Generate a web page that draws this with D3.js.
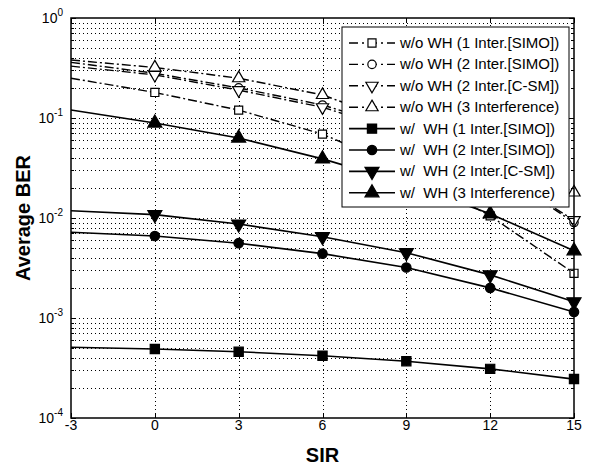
<!DOCTYPE html>
<html>
<head>
<meta charset="utf-8">
<script src="https://cdn.jsdelivr.net/npm/d3@7"></script>
<style>
  body { margin: 0; background: #fff; }
  svg { font-family: "Liberation Sans", Arial, sans-serif; }
</style>
</head>
<body>
<div id="chart"></div>
<script>
// SIR values (dB); markers are drawn from 0 on
const sir = [-3, 0, 3, 6, 9, 12, 15];
const xTicks = [-3, 0, 3, 6, 9, 12, 15];
const yTickExp = [0, -1, -2, -3, -4];

// average BER
const woWH1Simo = [0.25, 0.18, 0.12, 0.069, 0.03, 0.0105, 0.0028];
const woWH2Simo = [0.36, 0.28, 0.2, 0.135, 0.075, 0.033, 0.009];
const woWH2Csm = [0.33, 0.27, 0.19, 0.128, 0.07, 0.032, 0.0095];
const woWH3 = [0.38, 0.32, 0.25, 0.17, 0.085, 0.045, 0.018];
const wWH1Simo = [0.00051, 0.00049, 0.00046, 0.00042, 0.00037, 0.00031, 0.000245];
const wWH2Simo = [0.0072, 0.0066, 0.0056, 0.0044, 0.0032, 0.002, 0.00115];
const wWH2Csm = [0.0118, 0.0108, 0.0087, 0.0065, 0.0045, 0.0027, 0.00145];
const wWH3 = [0.12, 0.089, 0.063, 0.039, 0.022, 0.011, 0.0047];

const seriesNames = [
  "w/o WH (1 Inter.[SIMO])",
  "w/o WH (2 Inter.[SIMO])",
  "w/o WH (2 Inter.[C-SM])",
  "w/o WH (3 Interference)",
  "w/  WH (1 Inter.[SIMO])",
  "w/  WH (2 Inter.[SIMO])",
  "w/  WH (2 Inter.[C-SM])",
  "w/  WH (3 Interference)"
];
const seriesValues = [woWH1Simo, woWH2Simo, woWH2Csm, woWH3, wWH1Simo, wWH2Simo, wWH2Csm, wWH3];
const seriesMarker = ["square", "circle", "down", "up", "square", "circle", "down", "up"];
const seriesFilled = [false, false, false, false, true, true, true, true];

const width = 594, height = 466;
const margin = { top: 18, right: 20, bottom: 48, left: 71 };

const svg = d3.select("#chart").append("svg")
  .attr("width", width).attr("height", height);

const x = d3.scaleLinear().domain([-3, 15]).range([margin.left, width - margin.right]);
const y = d3.scaleLog().domain([1e-4, 1]).range([height - margin.bottom, margin.top]);
const x0 = x.range()[0], x1 = x.range()[1], y0 = y.range()[0], y1 = y.range()[1];

// minor and major log values
const minorVals = [];
for (let e = -4; e < 0; e++) for (let m = 2; m <= 9; m++) minorVals.push(m * Math.pow(10, e));
const majorVals = yTickExp.map(e => Math.pow(10, e));

// grid
const grid = svg.append("g").attr("stroke", "#000").attr("stroke-width", 1)
  .attr("stroke-dasharray", "1,3").attr("fill", "none");
grid.selectAll(".gy").data(minorVals.concat(majorVals.slice(1, -1))).enter().append("line")
  .attr("x1", x0).attr("x2", x1)
  .attr("y1", d => Math.round(y(d)) + 0.5).attr("y2", d => Math.round(y(d)) + 0.5);
grid.selectAll(".gx").data(xTicks.slice(1, -1)).enter().append("line")
  .attr("y1", y0).attr("y2", y1)
  .attr("x1", d => Math.round(x(d)) + 0.5).attr("x2", d => Math.round(x(d)) + 0.5);

// symbols
function symbolPath(kind, size) {
  if (kind === "square") return d3.symbol(d3.symbolSquare, size)();
  if (kind === "circle") return d3.symbol(d3.symbolCircle, size)();
  return d3.symbol(d3.symbolTriangle, size)();
}
function drawMarker(g, kind, filled, cx, cy) {
  const size = filled ? (kind === "circle" ? 70 : 85) : (kind === "circle" ? 55 : 65);
  g.append("path")
    .attr("d", symbolPath(kind, size))
    .attr("transform", `translate(${cx},${cy})` + (kind === "down" ? " rotate(180)" : ""))
    .attr("fill", filled ? "#000" : "#fff")
    .attr("stroke", "#000").attr("stroke-width", 1.2);
}

const line = d3.line().x((d, i) => x(sir[i])).y(d => y(d));
const dashDot = "9,3,2,3";

const plot = svg.append("g");
seriesValues.forEach((vals, s) => {
  plot.append("path").datum(vals)
    .attr("d", line)
    .attr("fill", "none").attr("stroke", "#000")
    .attr("stroke-width", seriesFilled[s] ? 1.6 : 1.4)
    .attr("stroke-dasharray", seriesFilled[s] ? null : dashDot);
});
seriesValues.forEach((vals, s) => {
  vals.forEach((v, i) => {
    if (sir[i] < 0) return;
    drawMarker(plot, seriesMarker[s], seriesFilled[s], x(sir[i]), y(v));
  });
});

// box
svg.append("rect").attr("x", x0).attr("y", y1).attr("width", x1 - x0).attr("height", y0 - y1)
  .attr("fill", "none").attr("stroke", "#000").attr("stroke-width", 1.5);

// ticks (inside, all sides)
const ticks = svg.append("g").attr("stroke", "#000").attr("stroke-width", 1);
xTicks.forEach(t => {
  const px = Math.round(x(t)) + 0.5;
  ticks.append("line").attr("x1", px).attr("x2", px).attr("y1", y0).attr("y2", y0 - 5);
  ticks.append("line").attr("x1", px).attr("x2", px).attr("y1", y1).attr("y2", y1 + 5);
});
majorVals.forEach(v => {
  const py = Math.round(y(v)) + 0.5;
  ticks.append("line").attr("x1", x0).attr("x2", x0 + 5).attr("y1", py).attr("y2", py);
  ticks.append("line").attr("x1", x1).attr("x2", x1 - 5).attr("y1", py).attr("y2", py);
});
minorVals.forEach(v => {
  const py = Math.round(y(v)) + 0.5;
  ticks.append("line").attr("x1", x0).attr("x2", x0 + 3).attr("y1", py).attr("y2", py);
  ticks.append("line").attr("x1", x1).attr("x2", x1 - 3).attr("y1", py).attr("y2", py);
});

// tick labels
svg.append("g").selectAll("text").data(xTicks).enter().append("text")
  .attr("x", d => x(d)).attr("y", y0 + 12)
  .attr("text-anchor", "middle").attr("font-size", 14).text(d => d);

const yl = svg.append("g").selectAll("text").data(yTickExp).enter().append("text")
  .attr("x", x0 - 8).attr("y", d => y(Math.pow(10, d)) + 5)
  .attr("text-anchor", "end").attr("font-size", 14);
yl.append("tspan").text("10");
yl.append("tspan").attr("dy", -7).attr("font-size", 10).text(d => d);

// axis labels
svg.append("text").attr("x", (x0 + x1) / 2).attr("y", height - 4)
  .attr("text-anchor", "middle").attr("font-size", 20).attr("font-weight", "bold").text("SIR");
svg.append("text").attr("transform", `translate(30,${(y0 + y1) / 2}) rotate(-90)`)
  .attr("text-anchor", "middle").attr("font-size", 20).attr("font-weight", "bold").text("Average BER");

// legend
const lg = svg.append("g").attr("transform", "translate(342,27)");
lg.append("rect").attr("width", 227).attr("height", 180)
  .attr("fill", "#fff").attr("stroke", "#000").attr("stroke-width", 1);
seriesNames.forEach((name, s) => {
  const cy = 16 + s * 21.4;
  lg.append("line").attr("x1", 7).attr("x2", 53).attr("y1", cy).attr("y2", cy)
    .attr("stroke", "#000").attr("stroke-width", seriesFilled[s] ? 1.6 : 1.4)
    .attr("stroke-dasharray", seriesFilled[s] ? null : "9,4,2,4");
  drawMarker(lg, seriesMarker[s], seriesFilled[s], 30, cy);
  lg.append("text").attr("x", 58).attr("y", cy + 5).attr("font-size", 15)
    .attr("xml:space", "preserve").style("white-space", "pre").text(name);
});
</script>
</body>
</html>
